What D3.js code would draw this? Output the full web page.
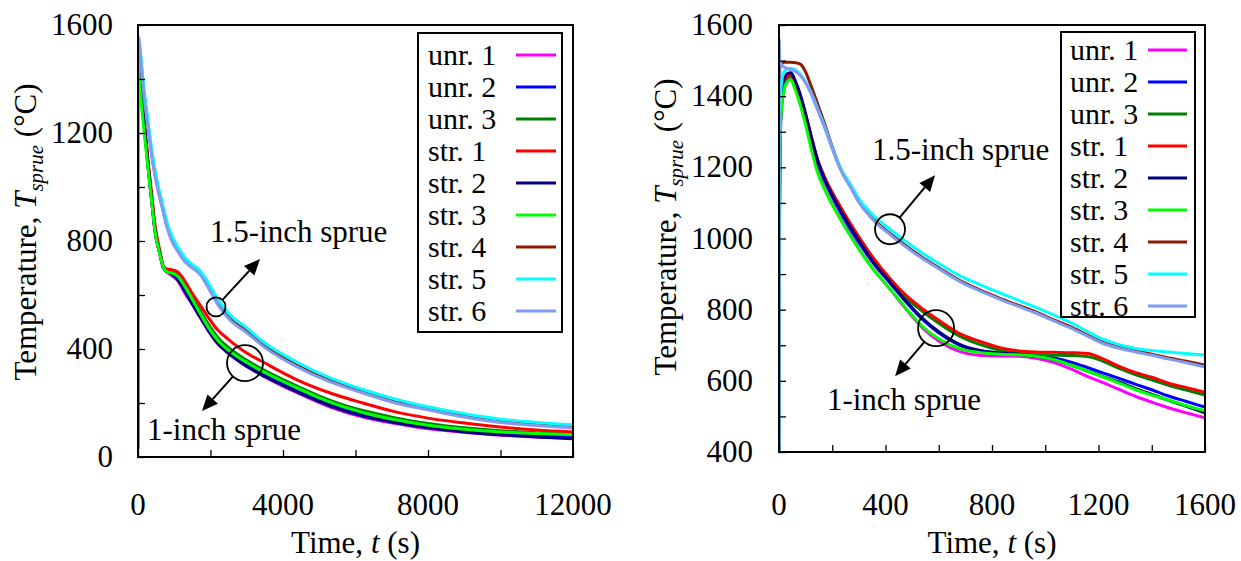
<!DOCTYPE html>
<html><head><meta charset="utf-8">
<script src="https://cdn.jsdelivr.net/npm/d3@7"></script>
</head><body style="margin:0">
<svg id="fig" width="1241" height="561" style="font-family: 'Liberation Serif', 'Times New Roman', Tinos, serif"></svg>
<script>
// ---- Series names and colours (legend order = drawing order) ----
const seriesNames = ["unr. 1", "unr. 2", "unr. 3", "str. 1", "str. 2", "str. 3", "str. 4", "str. 5", "str. 6"];
const seriesColors = ["#ff00ff", "#0000ff", "#008000", "#ff0000", "#000080", "#00ff00", "#8b1a00", "#00ffff", "#7f9cf2"];

// ---- Left panel: full cooling history (time in s, temperature in °C) ----
const leftTime = [0, 20, 60, 120, 200, 280, 390, 470, 600, 700, 800, 950, 1100, 1300, 1500, 1700, 2000, 2200, 2500, 3000, 3500, 4400, 5300, 6200, 7100, 8000, 9000, 10000, 11000, 12000];
const leftUnr1 = [30, 1480, 1420, 1305, 1185, 1068, 928, 832, 752, 700, 686, 670, 652, 605, 565, 520, 455, 420, 385, 335, 297, 237, 185, 148, 124, 105, 92, 81, 74, 70];
const leftUnr2 = [30, 1480, 1420, 1310, 1190, 1075, 935, 838, 755, 702, 686, 678, 660, 618, 572, 528, 462, 425, 388, 340, 303, 245, 194, 158, 132, 113, 98, 88, 80, 75];
const leftUnr3 = [30, 1470, 1410, 1310, 1190, 1080, 940, 845, 760, 706, 688, 682, 672, 636, 590, 545, 480, 443, 405, 358, 320, 262, 210, 172, 145, 124, 108, 97, 90, 85];
const leftStr1 = [30, 1490, 1440, 1330, 1210, 1095, 960, 860, 765, 705, 697, 693, 685, 650, 605, 565, 505, 470, 435, 385, 348, 285, 237, 200, 167, 144, 126, 111, 100, 93];
const leftStr2 = [30, 1485, 1425, 1315, 1195, 1080, 938, 840, 756, 702, 686, 676, 656, 612, 566, 522, 457, 420, 383, 336, 298, 240, 189, 152, 127, 108, 93, 82, 74, 68];
const leftStr3 = [30, 1420, 1360, 1270, 1165, 1065, 930, 835, 752, 703, 686, 680, 668, 630, 583, 535, 468, 432, 395, 350, 313, 255, 203, 165, 138, 118, 103, 93, 87, 82];
const leftStr4 = [30, 1520, 1495, 1405, 1310, 1225, 1112, 1048, 966, 910, 855, 800, 765, 728, 704, 685, 618, 570, 518, 466, 411, 339, 284, 243, 206, 180, 153, 133, 121, 112];
const leftStr5 = [30, 1540, 1510, 1420, 1325, 1240, 1130, 1062, 980, 925, 870, 815, 778, 738, 712, 692, 632, 585, 532, 478, 422, 350, 293, 250, 214, 186, 160, 140, 128, 119];
const leftStr6 = [30, 1556, 1500, 1400, 1300, 1215, 1105, 1040, 960, 905, 850, 795, 760, 722, 700, 678, 612, 565, 512, 460, 405, 333, 278, 237, 200, 175, 148, 128, 117, 107];

// ---- Right panel: first 1600 s ----
const rightTime = [0, 1, 3, 10, 20, 30, 45, 60, 80, 100, 120, 145, 170, 200, 230, 270, 300, 350, 420, 470, 540, 600, 680, 750, 830, 900, 960, 1030, 1100, 1160, 1210, 1280, 1340, 1400, 1460, 1530, 1600];
const rightUnr1 = [400, 900, 1240, 1360, 1420, 1440, 1448, 1425, 1380, 1325, 1260, 1190, 1143, 1098, 1058, 1008, 972, 918, 855, 808, 748, 712, 682, 672, 670, 669, 664, 652, 632, 612, 597, 575, 556, 540, 525, 510, 496];
const rightUnr2 = [400, 900, 1260, 1390, 1440, 1458, 1462, 1440, 1400, 1345, 1285, 1215, 1165, 1118, 1076, 1025, 990, 935, 872, 828, 772, 735, 700, 685, 678, 675, 672, 665, 652, 637, 624, 606, 590, 575, 558, 542, 526];
const rightUnr3 = [400, 900, 1255, 1385, 1435, 1450, 1455, 1435, 1395, 1342, 1285, 1218, 1170, 1125, 1085, 1035, 1000, 945, 880, 838, 795, 762, 725, 703, 686, 677, 673, 672, 671, 668, 657, 634, 617, 603, 588, 574, 560];
const rightStr1 = [400, 900, 1260, 1390, 1440, 1455, 1460, 1440, 1400, 1348, 1290, 1222, 1175, 1130, 1090, 1040, 1005, 950, 885, 845, 802, 770, 732, 712, 693, 684, 681, 680, 679, 677, 664, 640, 623, 610, 594, 581, 568];
const rightStr2 = [400, 900, 1270, 1400, 1448, 1463, 1466, 1445, 1405, 1350, 1290, 1220, 1170, 1122, 1080, 1030, 994, 938, 875, 830, 775, 738, 702, 686, 678, 675, 670, 660, 643, 627, 614, 596, 578, 562, 546, 528, 510];
const rightStr3 = [400, 900, 1250, 1370, 1420, 1440, 1446, 1420, 1375, 1320, 1255, 1185, 1140, 1095, 1055, 1005, 970, 917, 856, 810, 752, 718, 690, 680, 675, 673, 670, 660, 643, 627, 613, 593, 575, 560, 547, 530, 516];
const rightStr4 = [400, 1200, 1480, 1492, 1495, 1495, 1495, 1494, 1490, 1468, 1430, 1378, 1325, 1258, 1198, 1145, 1105, 1058, 1012, 983, 946, 918, 882, 857, 832, 812, 795, 772, 750, 728, 710, 694, 684, 675, 665, 655, 644];
const rightStr5 = [400, 1000, 1352, 1440, 1470, 1476, 1478, 1475, 1462, 1440, 1412, 1365, 1318, 1255, 1200, 1150, 1112, 1068, 1024, 995, 958, 930, 895, 872, 847, 826, 808, 786, 762, 738, 719, 701, 691, 685, 681, 677, 672];
const rightStr6 = [400, 1560, 1500, 1488, 1482, 1478, 1475, 1470, 1458, 1437, 1408, 1362, 1314, 1252, 1195, 1142, 1102, 1055, 1009, 980, 943, 915, 879, 854, 829, 809, 792, 769, 747, 725, 707, 691, 681, 672, 662, 651, 639];

// ---- Axis ticks ----
const leftXTicks = d3.range(0, 12001, 2000);
const leftXLabels = [0, 4000, 8000, 12000];
const leftYTicks = d3.range(0, 1601, 200);
const leftYLabels = [0, 400, 800, 1200, 1600];
const rightXTicks = d3.range(0, 1601, 200);
const rightXLabels = [0, 400, 800, 1200, 1600];
const rightYTicks = d3.range(400, 1601, 100);
const rightYLabels = [400, 600, 800, 1000, 1200, 1400, 1600];

// ---- Callouts (data coordinates) ----
const leftCallouts = [
  { text: "1.5-inch sprue", tx: 1986, ty: 796, cx: 2152, cy: 556, r: 9.5, ax: 3366, ay: 733 },
  { text: "1-inch sprue", tx: 248, ty: 63, cx: 2952, cy: 348, r: 18, ax: 1766, ay: 170 }
];
const rightCallouts = [
  { text: "1.5-inch sprue", tx: 349, ty: 1220, cx: 417, cy: 1026, r: 15, ax: 586, ay: 1178 },
  { text: "1-inch sprue", tx: 180, ty: 518, cx: 590, cy: 748, r: 18, ax: 436, ay: 613 }
];

const svg = d3.select("#fig");
const SERIF_STACK = "'Liberation Serif', 'Times New Roman', Tinos, serif";

// every text node gets the serif face explicitly (attribute and inline style)
function serif(sel, size) {
  return sel
    .attr("font-family", SERIF_STACK)
    .style("font-family", SERIF_STACK)
    .attr("font-size", size);
}

function drawPanel(cfg) {
  const g = svg.append("g").attr("font-family", SERIF_STACK);
  const x = d3.scaleLinear().domain(cfg.xDomain).range([cfg.left, cfg.right]);
  const y = d3.scaleLinear().domain(cfg.yDomain).range([cfg.bottom, cfg.top]);

  const clipId = "clip-" + cfg.id;
  g.append("clipPath").attr("id", clipId)
    .append("rect")
    .attr("x", cfg.left).attr("y", cfg.top)
    .attr("width", cfg.right - cfg.left).attr("height", cfg.bottom - cfg.top);

  // temperature curves
  const line = d3.line().x(d => x(d[0])).y(d => y(d[1])).curve(d3.curveMonotoneX);
  const curves = g.append("g").attr("clip-path", `url(#${clipId})`);
  cfg.series.forEach((vals, i) => {
    curves.append("path")
      .datum(vals.map((v, j) => [cfg.time[j], v]))
      .attr("fill", "none")
      .attr("stroke", seriesColors[i])
      .attr("stroke-width", 3)
      .attr("stroke-linejoin", "round")
      .attr("d", line);
  });

  // inward ticks, drawn with the d3 axis generators
  const xAxis = d3.axisBottom(x)
    .tickValues(cfg.xTicks)
    .tickSizeInner(-7).tickSizeOuter(0)
    .tickFormat("");
  const yAxis = d3.axisLeft(y)
    .tickValues(cfg.yTicks)
    .tickSizeInner(-7).tickSizeOuter(0)
    .tickFormat("");
  const gx = g.append("g").attr("transform", `translate(0,${cfg.bottom})`).call(xAxis);
  const gy = g.append("g").attr("transform", `translate(${cfg.left},0)`).call(yAxis);
  [gx, gy].forEach(a => {
    a.attr("font-family", SERIF_STACK);
    a.select(".domain").remove();
    a.selectAll(".tick text").remove();
    a.selectAll(".tick line").attr("stroke", "#000").attr("stroke-width", 1.3);
  });

  // tick labels
  cfg.xLabels.forEach(v => {
    serif(g.append("text"), 31)
      .attr("x", x(v)).attr("y", cfg.bottom + cfg.xLabelDy)
      .attr("text-anchor", "middle")
      .text(v);
  });
  cfg.yLabels.forEach(v => {
    serif(g.append("text"), 31)
      .attr("x", cfg.left - cfg.yLabelDx).attr("y", y(v) + 10)
      .attr("text-anchor", "end")
      .text(v);
  });

  // plot frame
  g.append("rect")
    .attr("x", cfg.left).attr("y", cfg.top)
    .attr("width", cfg.right - cfg.left).attr("height", cfg.bottom - cfg.top)
    .attr("fill", "none").attr("stroke", "#000").attr("stroke-width", 2);

  // axis titles
  const xt = serif(g.append("text"), 31)
    .attr("x", (cfg.left + cfg.right) / 2).attr("y", cfg.xTitleY)
    .attr("text-anchor", "middle");
  xt.append("tspan").text("Time, ");
  xt.append("tspan").attr("font-style", "italic").text("t");
  xt.append("tspan").text(" (s)");

  const yt = serif(g.append("text"), 31)
    .attr("transform", `translate(${cfg.yTitleX},${cfg.yTitleY}) rotate(-90)`)
    .attr("text-anchor", "middle");
  yt.append("tspan").text("Temperature, ");
  yt.append("tspan").attr("font-style", "italic").text("T");
  yt.append("tspan").attr("font-style", "italic").attr("font-size", 21).attr("dy", 7).text("sprue");
  yt.append("tspan").attr("dy", -7).text(" (°C)");

  // legend
  const lg = cfg.legend;
  g.append("rect")
    .attr("x", lg.x).attr("y", lg.y).attr("width", lg.w).attr("height", lg.h)
    .attr("fill", "#fff").attr("stroke", "#000").attr("stroke-width", 2);
  seriesNames.forEach((name, i) => {
    const cy = lg.firstRow + i * lg.step;
    serif(g.append("text"), 30)
      .attr("x", lg.textX).attr("y", cy + 10)
      .text(name);
    g.append("line")
      .attr("x1", lg.lineX1).attr("x2", lg.lineX2)
      .attr("y1", cy).attr("y2", cy)
      .attr("stroke", seriesColors[i]).attr("stroke-width", 3);
  });

  // callouts: label, ring around the curve group, arrow away from the ring
  cfg.callouts.forEach(c => {
    serif(g.append("text"), 31)
      .attr("x", x(c.tx)).attr("y", y(c.ty))
      .text(c.text);
    const px = x(c.cx), py = y(c.cy);
    g.append("circle").attr("cx", px).attr("cy", py).attr("r", c.r)
      .attr("fill", "none").attr("stroke", "#000").attr("stroke-width", 1.8);
    const tx = x(c.ax), ty = y(c.ay);
    const dx = tx - px, dy = ty - py, len = Math.hypot(dx, dy);
    const ux = dx / len, uy = dy / len;
    const head = 16, half = 7;
    const bx = tx - ux * head, by = ty - uy * head;
    g.append("line")
      .attr("x1", px + ux * c.r).attr("y1", py + uy * c.r)
      .attr("x2", bx).attr("y2", by)
      .attr("stroke", "#000").attr("stroke-width", 2);
    g.append("path")
      .attr("d", `M${tx},${ty}L${bx - uy * half},${by + ux * half}L${bx + uy * half},${by - ux * half}Z`)
      .attr("fill", "#000");
  });
}

drawPanel({
  id: "left",
  left: 138, right: 573, top: 25, bottom: 457,
  xDomain: [0, 12000], yDomain: [0, 1600],
  time: leftTime,
  series: [leftUnr1, leftUnr2, leftUnr3, leftStr1, leftStr2, leftStr3, leftStr4, leftStr5, leftStr6],
  xTicks: leftXTicks, xLabels: leftXLabels, yTicks: leftYTicks, yLabels: leftYLabels,
  xLabelDy: 58, yLabelDx: 25,
  xTitleY: 553, yTitleX: 36, yTitleY: 232,
  legend: { x: 418, y: 33, w: 144, h: 299, firstRow: 55, step: 32, textX: 428, lineX1: 516, lineX2: 556 },
  callouts: leftCallouts
});

drawPanel({
  id: "right",
  left: 779, right: 1205, top: 25, bottom: 452,
  xDomain: [0, 1600], yDomain: [400, 1600],
  time: rightTime,
  series: [rightUnr1, rightUnr2, rightUnr3, rightStr1, rightStr2, rightStr3, rightStr4, rightStr5, rightStr6],
  xTicks: rightXTicks, xLabels: rightXLabels, yTicks: rightYTicks, yLabels: rightYLabels,
  xLabelDy: 63, yLabelDx: 26,
  xTitleY: 553, yTitleX: 676, yTitleY: 227,
  legend: { x: 1061, y: 32, w: 134, h: 285, firstRow: 50, step: 32, textX: 1070, lineX1: 1148, lineX2: 1187 },
  callouts: rightCallouts
});
</script>
</body>
</html>
